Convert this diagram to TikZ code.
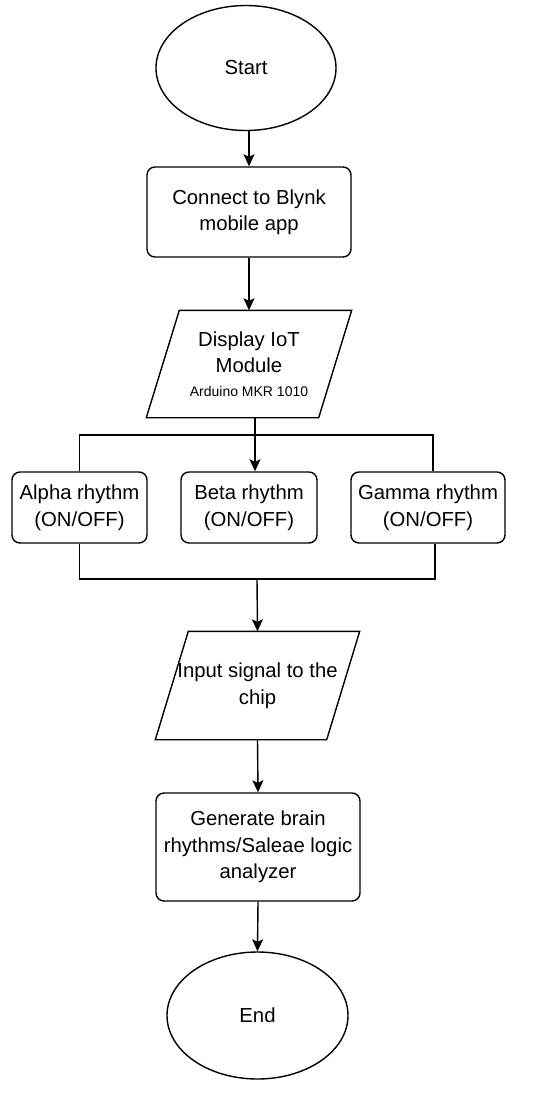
\documentclass[tikz,border=0pt]{standalone}
\usepackage{fontspec}
\setmainfont{Liberation Sans}
\usetikzlibrary{shapes.geometric,arrows.meta,calc}
\tikzset{
  base/.style={line width=1.4pt, font=\fontsize{20.3}{26.5}\selectfont, align=center, inner sep=0pt},
  term/.style={base, draw, ellipse, minimum width=180pt, minimum height=125pt},
  procbox/.style={base, draw, rounded corners=8pt},
  iobox/.style={base},
  arr/.style={line width=1.4pt, -{Stealth[length=12pt,width=11pt,inset=2.5pt]}},
  conn/.style={line width=1.4pt},
  para/.style={line width=1.4pt, line join=miter}
}
\begin{document}
\begin{tikzpicture}[x=1pt,y=-1pt]
\path[use as bounding box, fill=white] (0,0) rectangle (550,1095);

\node[term] (start) at (246,68) {Start};
\node[procbox, minimum width=204pt, minimum height=90pt] (connect) at (249,212) {Connect to Blynk\\mobile app};

\node[iobox, minimum width=171pt, minimum height=106pt] (disp) at (249,364)
  {Display IoT\\Module\\[-3pt]{\fontsize{14}{18}\selectfont Arduino MKR 1010}};
\draw[para] ($(disp.north west)+(16.5,0)$) -- ($(disp.north east)+(16.5,0)$)
  -- ($(disp.south east)+(-16.5,0)$) -- ($(disp.south west)+(-16.5,0)$) -- cycle;

\node[procbox, minimum width=135pt, minimum height=71pt] (alpha) at (79.5,507.5) {Alpha rhythm\\(ON/OFF)};
\node[procbox, minimum width=136pt, minimum height=71pt] (beta) at (249,507.5) {Beta rhythm\\(ON/OFF)};
\node[procbox, minimum width=154pt, minimum height=71pt] (gamma) at (428,507.5) {Gamma rhythm\\(ON/OFF)};

\node[iobox, minimum width=170pt, minimum height=107pt] (input) at (257.5,685.5) {Input signal to the\\chip};
\draw[para] ($(input.north west)+(16.5,0)$) -- ($(input.north east)+(16.5,0)$)
  -- ($(input.south east)+(-16.5,0)$) -- ($(input.south west)+(-16.5,0)$) -- cycle;

\node[procbox, minimum width=204pt, minimum height=108pt] (gen) at (258,847) {Generate brain\\rhythms/Saleae logic\\analyzer};
\node[term, minimum width=181pt, minimum height=127pt] (end) at (257.5,1015.5) {End};

\coordinate (split) at (255,435);
\coordinate (merge) at (257,579);

\draw[arr] (start.south -| connect.north) -- (connect.north);
\draw[arr] (connect.south) -- (disp.north);
\draw[arr] (disp.south -| split) -- (split |- beta.north);
\draw[conn] (alpha.north) |- (split) -| ([xshift=5pt]gamma.north);
\draw[conn] (alpha.south) |- (merge) -| ([xshift=7pt]gamma.south);
\draw[arr] (merge) -- (input.north);
\draw[arr] (input.south) -- (gen.north);
\draw[arr] (gen.south) -- (end.north);
\end{tikzpicture}
\end{document}
